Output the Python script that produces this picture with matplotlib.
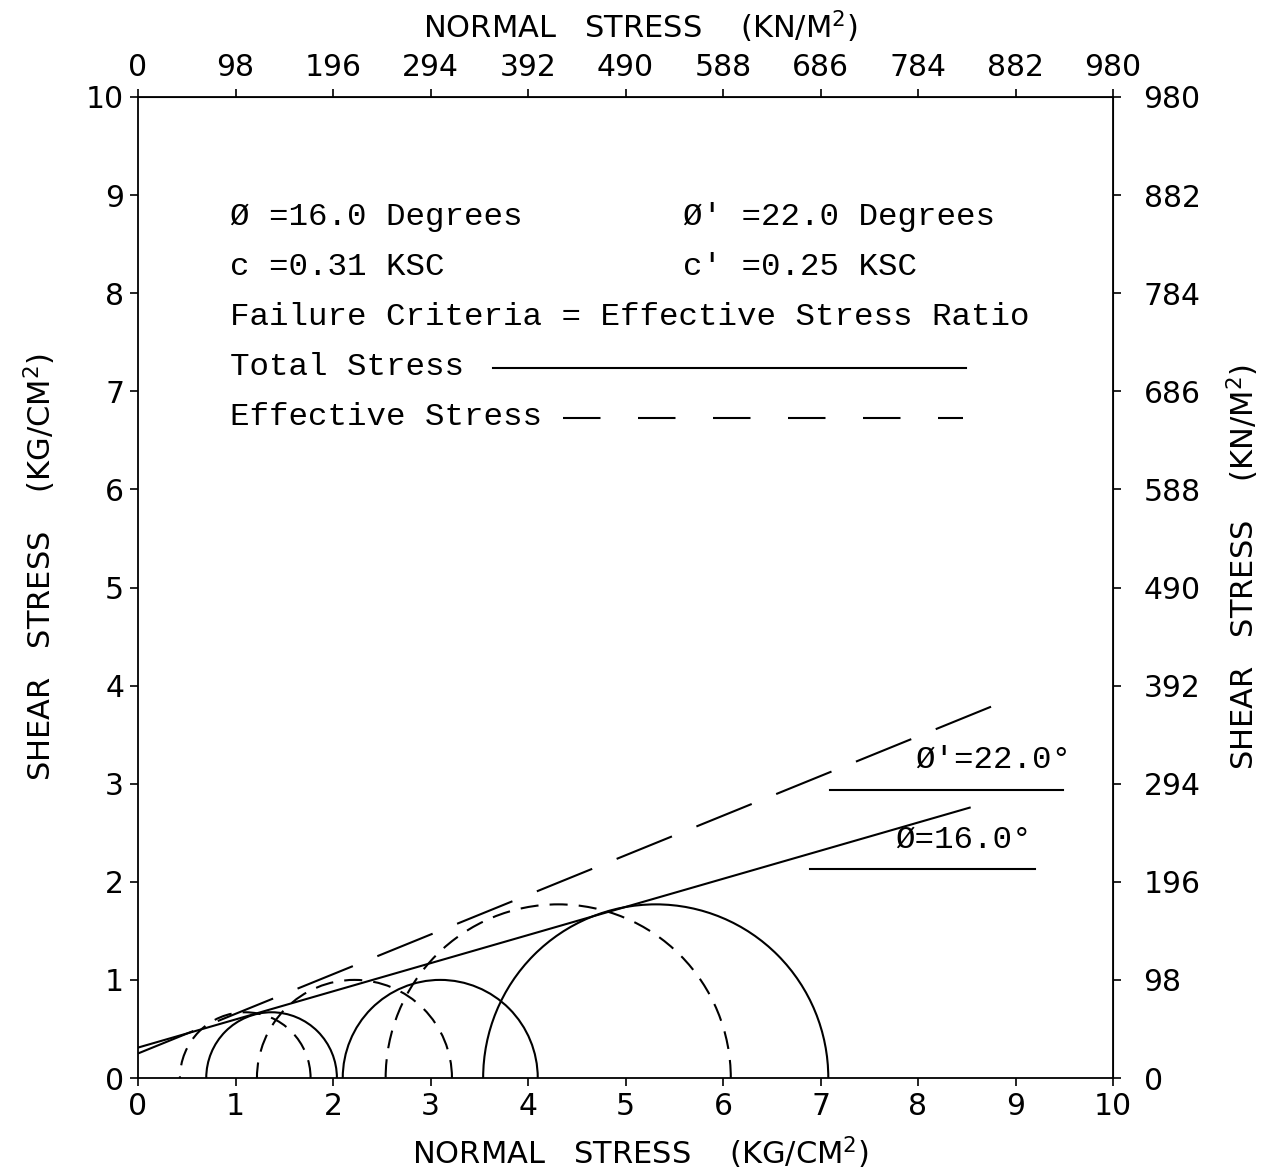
import numpy as np
import matplotlib
matplotlib.use("Agg")
import matplotlib.pyplot as plt
from matplotlib.patches import Arc

plt.rcParams['lines.scale_dashes'] = False
plt.rcParams['font.family'] = ['DejaVu Sans']
plt.rcParams['mathtext.fontset'] = 'dejavusans'

# ---------------- data ----------------
x_ticks = list(range(0, 11))
kn_ticks = [0, 98, 196, 294, 392, 490, 588, 686, 784, 882, 980]

total_centers = [1.37, 3.10, 5.31]
total_radii = [0.67, 1.00, 1.77]
eff_centers = [1.10, 2.22, 4.31]
eff_radii = [0.67, 1.00, 1.77]

phi_total = 16.0
c_total = 0.31
phi_eff = 22.0
c_eff = 0.25
total_env_end = 8.53
eff_env_end = 8.84

info_left = ["\u00d8 =16.0 Degrees", "c =0.31 KSC"]
info_right = ["\u00d8' =22.0 Degrees", "c' =0.25 KSC"]
criteria_text = "Failure Criteria = Effective Stress Ratio"
legend_labels = ["Total Stress", "Effective Stress"]
angle_labels = ["\u00d8'=22.0\u00b0", "\u00d8=16.0\u00b0"]

# ---------------- figure ----------------
W, H = 1286, 1173
fig = plt.figure(figsize=(W / 100, H / 100), dpi=100)
ax = fig.add_axes([138 / W, 1 - 1078 / H, (1113 - 138) / W, (1078 - 97) / H])
ax.set_xlim(0, 10)
ax.set_ylim(0, 10)

lw = 1.5
long_dash = (0, (43, 19))
circ_dash = (0, (13, 8))

# Mohr circles
for c, r in zip(total_centers, total_radii):
    ax.add_patch(Arc((c, 0), 2 * r, 2 * r, theta1=0, theta2=180,
                     color='black', lw=lw))
for c, r in zip(eff_centers, eff_radii):
    ax.add_patch(Arc((c, 0), 2 * r, 2 * r, theta1=0, theta2=180,
                     color='black', lw=lw, linestyle=circ_dash))

# failure envelopes
xt = np.array([0, total_env_end])
ax.plot(xt, c_total + np.tan(np.radians(phi_total)) * xt, color='black', lw=lw)
xe = np.array([0, eff_env_end])
ax.plot(xe, c_eff + np.tan(np.radians(phi_eff)) * xe, color='black', lw=lw,
        linestyle=long_dash)

# info text
mono = 'Liberation Mono'
fs_mono = 23.4
rows_y = [8.78, 8.27, 7.76, 7.25, 6.74]
for i, s in enumerate(info_left):
    ax.text(0.94, rows_y[i], s, family=mono, fontsize=fs_mono, va='center', ha='left')
for i, s in enumerate(info_right):
    ax.text(5.59, rows_y[i], s, family=mono, fontsize=fs_mono, va='center', ha='left')
ax.text(0.94, rows_y[2], criteria_text, family=mono, fontsize=fs_mono, va='center', ha='left')
ax.text(0.94, rows_y[3], legend_labels[0], family=mono, fontsize=fs_mono, va='center', ha='left')
ax.text(0.94, rows_y[4], legend_labels[1], family=mono, fontsize=fs_mono, va='center', ha='left')
ax.plot([3.64, 8.49], [7.24, 7.24], color='black', lw=lw)
ax.plot([4.36, 8.46], [6.73, 6.73], color='black', lw=lw, linestyle=(0, (27, 27)))

# angle labels
ax.text(8.77, 3.24, angle_labels[0], family=mono, fontsize=fs_mono, ha='center', va='center')
ax.plot([7.10, 9.49], [2.94, 2.94], color='black', lw=lw)
ax.text(8.47, 2.43, angle_labels[1], family=mono, fontsize=fs_mono, ha='center', va='center')
ax.plot([6.89, 9.20], [2.13, 2.13], color='black', lw=lw)

# axes styling
for side in ['left', 'right', 'top', 'bottom']:
    ax.spines[side].set_linewidth(1.3)
fs_tick = 21.5
ax.set_xticks(x_ticks)
ax.set_yticks(x_ticks)
ax.tick_params(axis='both', direction='out', length=6, width=1.2,
               labelsize=fs_tick, pad=4)

secx = ax.secondary_xaxis('top', functions=(lambda v: v * 98, lambda v: v / 98))
secx.set_ticks(kn_ticks)
secx.tick_params(direction='out', length=6, width=1.2, labelsize=fs_tick, pad=5)
secy = ax.secondary_yaxis('right', functions=(lambda v: v * 98, lambda v: v / 98))
secy.set_ticks(kn_ticks)
secy.tick_params(direction='out', length=6, width=1.2, labelsize=fs_tick, pad=16)

# axis titles
fs_lab = 22
fig.text(640 / W, 1 - 27 / H, "NORMAL   STRESS    (KN/M$^2$)", fontsize=fs_lab,
         ha='center', va='center')
fig.text(640 / W, 1 - 1153 / H, "NORMAL   STRESS    (KG/CM$^2$)", fontsize=fs_lab,
         ha='center', va='center')
fig.text(40 / W, 1 - 567 / H, "SHEAR   STRESS    (KG/CM$^2$)", fontsize=fs_lab,
         ha='center', va='center', rotation=90)
fig.text(1243 / W, 1 - 567 / H, "SHEAR   STRESS    (KN/M$^2$)", fontsize=fs_lab,
         ha='center', va='center', rotation=90)

fig.savefig("out.png", dpi=100)
